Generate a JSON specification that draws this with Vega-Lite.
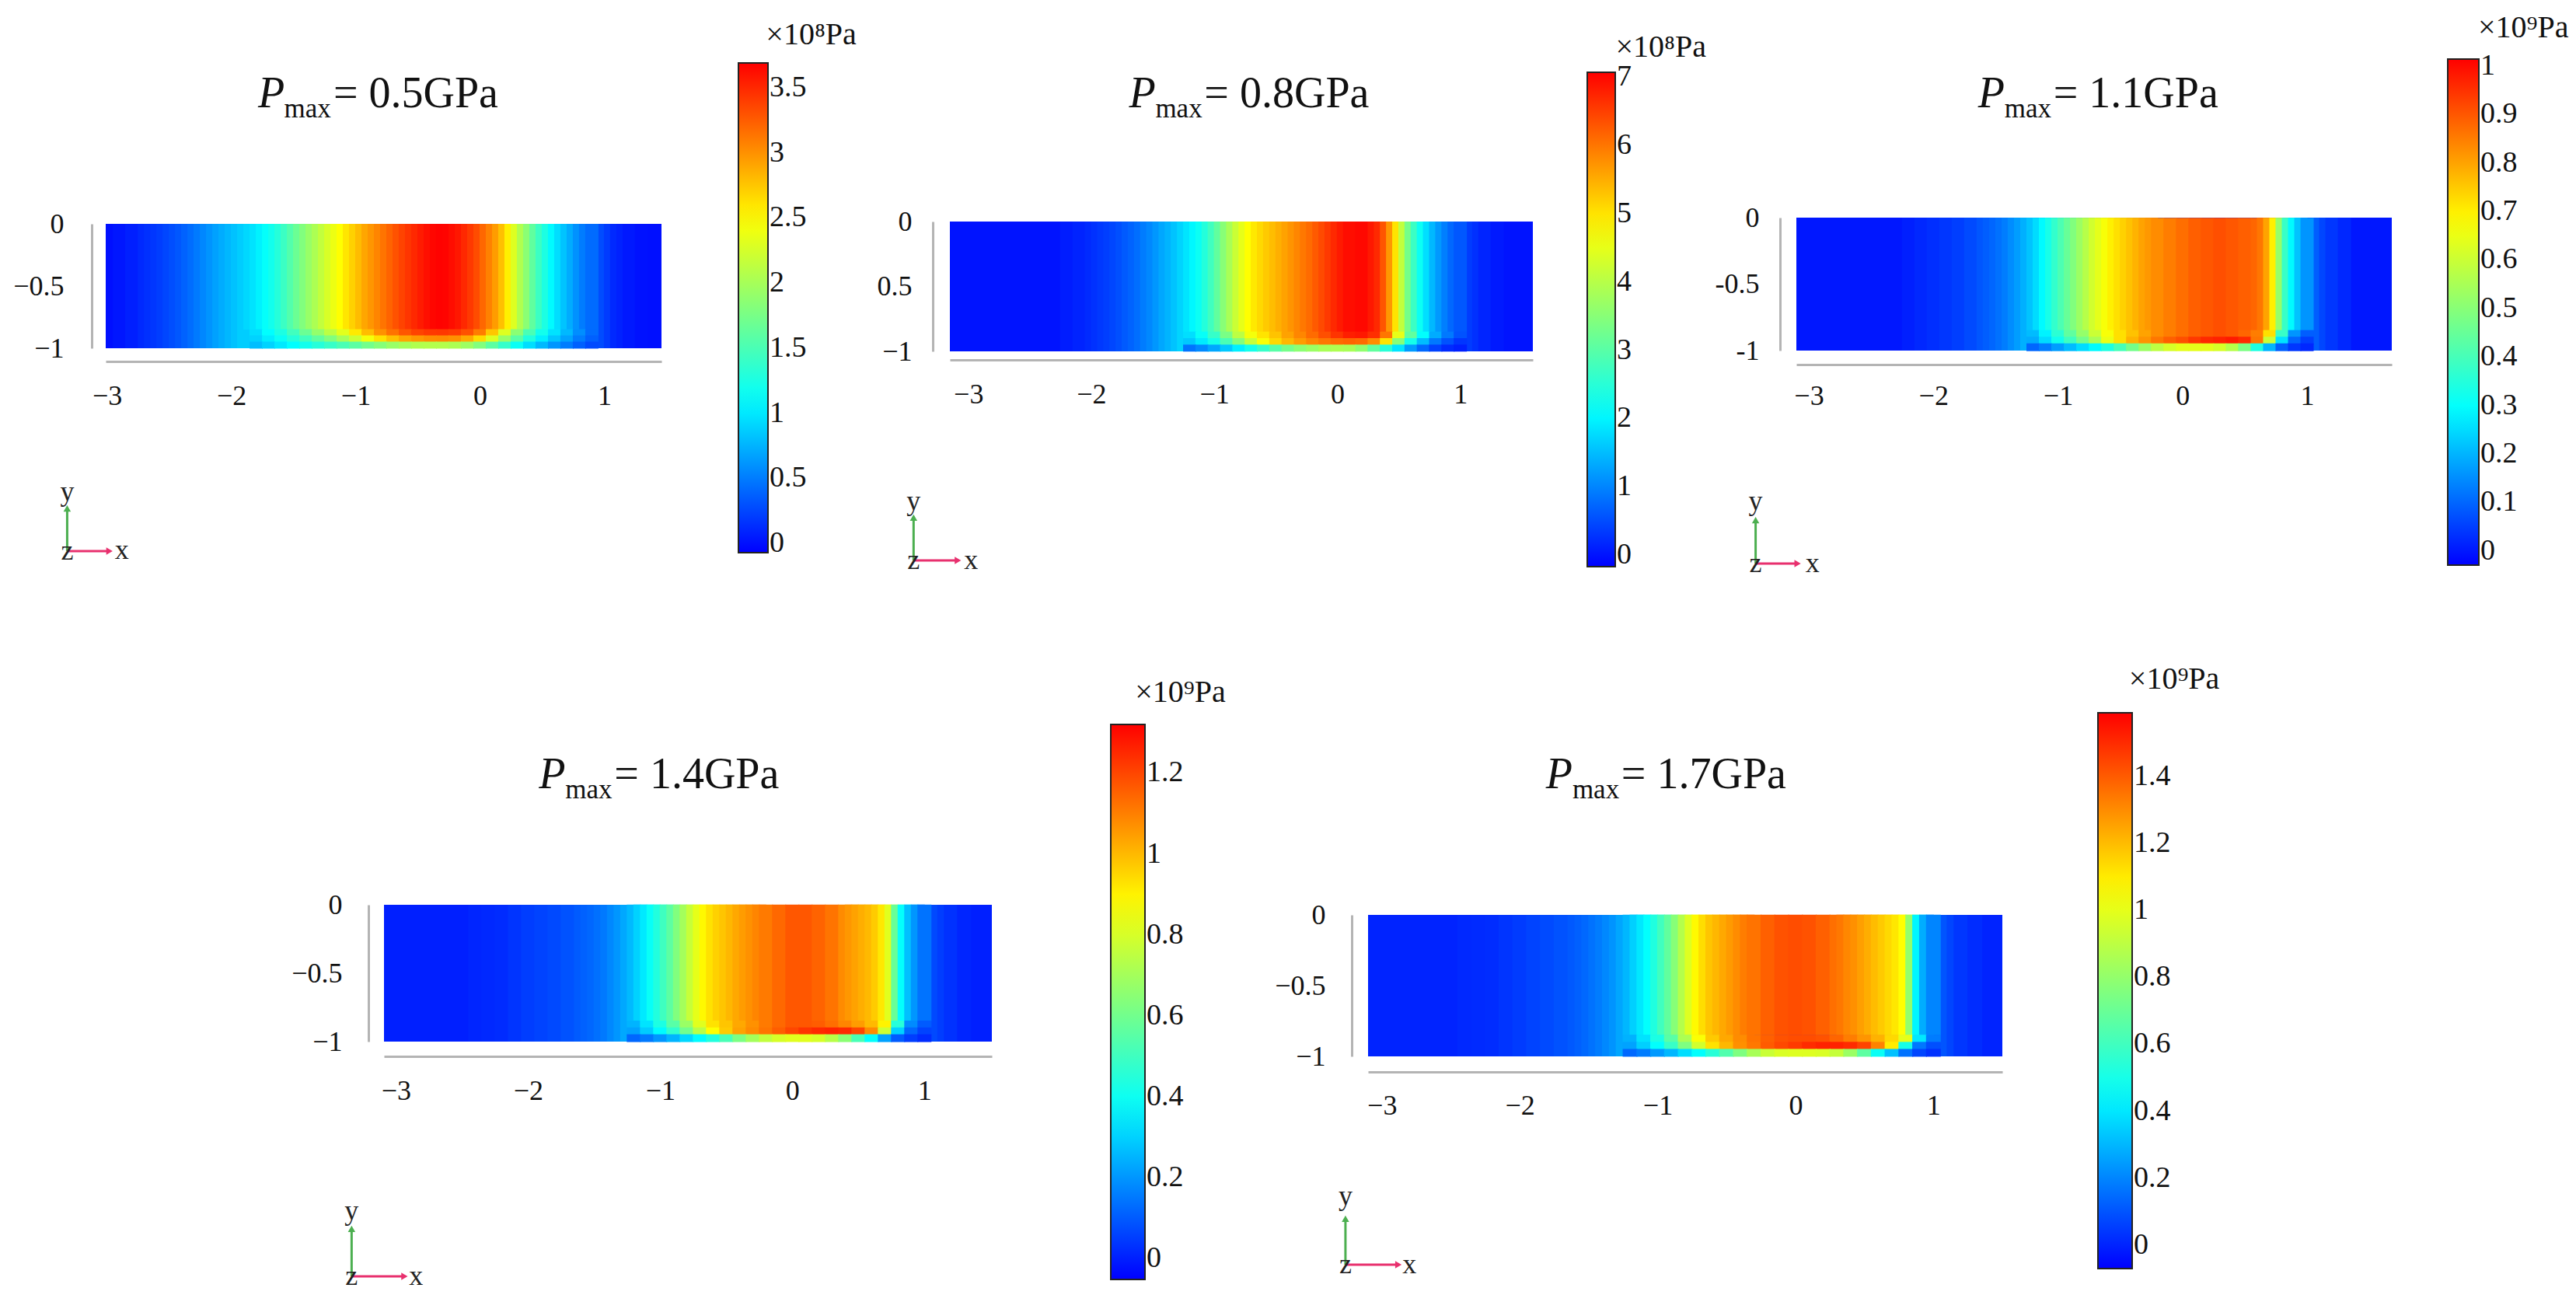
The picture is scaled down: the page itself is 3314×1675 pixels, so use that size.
{"$schema":"https://vega.github.io/schema/vega-lite/v6.json","width":3314,"height":1675,"padding":0,"autosize":{"type":"none"},"background":"white",
"config":{"view":{"stroke":null},
"axis":{"grid":false,"ticks":false,"title":null,"domainColor":"#b4b4b4","domainWidth":3,"labelFont":"Liberation Serif","labelFontSize":36,"labelColor":"#111","labelOverlap":false,"labelFlush":false,"labelBound":false,"format":"~g"},
"legend":{"orient":"none","title":null,"direction":"vertical","labelFont":"Liberation Serif","labelFontSize":38,"labelColor":"#111","labelOffset":16,"labelOverlap":false,"gradientStrokeColor":"#222","gradientStrokeWidth":2},
"style":{"sP":{"font":"Liberation Serif","fontSize":56,"fontStyle":"italic","align":"left","baseline":"alphabetic","color":"#111"},"sM":{"font":"Liberation Serif","fontSize":35,"align":"left","baseline":"alphabetic","color":"#111"},"sT":{"font":"Liberation Serif","fontSize":56,"align":"left","baseline":"alphabetic","color":"#111"},"sL":{"font":"Liberation Serif","fontSize":40,"align":"left","baseline":"alphabetic","color":"#111"},"sA":{"font":"Liberation Serif","fontSize":36,"align":"center","baseline":"middle","color":"#222"}}},
"resolve":{"scale":{"x":"independent","y":"independent","color":"independent"},"axis":{"x":"independent","y":"independent"}},
"layer":[
{"encoding":{"x":{"field":"x","type":"quantitative","scale":{"domain":[-3.01,1.46],"range":[136,851],"nice":false,"zero":false},"axis":{"orient":"bottom","offset":-1210,"labelPadding":27,"values":[-3,-2,-1,0,1]}},"y":{"field":"y","type":"quantitative","scale":{"domain":[-1,0],"range":[448,288],"nice":false,"zero":false},"axis":{"orient":"left","offset":-118,"labelPadding":36,"values":[0,-0.5,-1]}}},
"layer":[
{"encoding":{"color":{"field":"v","type":"quantitative","scale":{"domain":[-0.07,1.1,2.48,3.69],"range":["#0000ff","#00ffff","#ffff00","#ff0000"],"interpolate":"rgb"},"legend":{"format":"~g","legendX":950,"legendY":81,"gradientLength":630,"gradientThickness":38,"values":[0,0.5,1,1.5,2,2.5,3,3.5]}}},
"layer":[
{"mark":{"type":"rect"},"data":{"values":[{"x":-3.01,"x2":1.46,"y":0,"y2":-1,"v":0}]},"encoding":{"x2":{"field":"x2"},"y2":{"field":"y2"}}},
{"mark":{"type":"tick","orient":"vertical","thickness":17,"size":160,"opacity":1},"data":{"values":[{"x":-2.9,"y":-0.5,"v":0.03},{"x":-2.8,"y":-0.5,"v":0.07},{"x":-2.7,"y":-0.5,"v":0.12},{"x":-2.65,"y":-0.5,"v":0.15},{"x":-2.6,"y":-0.5,"v":0.18},{"x":-2.55,"y":-0.5,"v":0.21},{"x":-2.5,"y":-0.5,"v":0.25},{"x":-2.45,"y":-0.5,"v":0.29},{"x":-2.4,"y":-0.5,"v":0.33},{"x":-2.35,"y":-0.5,"v":0.38},{"x":-2.3,"y":-0.5,"v":0.43},{"x":-2.25,"y":-0.5,"v":0.49},{"x":-2.2,"y":-0.5,"v":0.55},{"x":-2.15,"y":-0.5,"v":0.61},{"x":-2.1,"y":-0.5,"v":0.67},{"x":-2.05,"y":-0.5,"v":0.72},{"x":-2,"y":-0.5,"v":0.77},{"x":-1.95,"y":-0.5,"v":0.82},{"x":-1.9,"y":-0.5,"v":0.87},{"x":1,"y":-0.5,"v":0.28},{"x":1.05,"y":-0.5,"v":0.2},{"x":1.1,"y":-0.5,"v":0.12},{"x":1.15,"y":-0.5,"v":0.08},{"x":1.2,"y":-0.5,"v":0.04},{"x":1.3,"y":-0.5,"v":0.01}]}},
{"mark":{"type":"tick","orient":"vertical","thickness":17,"size":136,"opacity":1},"data":{"values":[{"x":-1.85,"y":-0.425,"v":0.92},{"x":-1.8,"y":-0.425,"v":0.97},{"x":-1.75,"y":-0.425,"v":1.04},{"x":-1.7,"y":-0.425,"v":1.12},{"x":-1.65,"y":-0.425,"v":1.2},{"x":-1.6,"y":-0.425,"v":1.3},{"x":-1.55,"y":-0.425,"v":1.42},{"x":-1.5,"y":-0.425,"v":1.55},{"x":-1.45,"y":-0.425,"v":1.68},{"x":-1.4,"y":-0.425,"v":1.8},{"x":-1.35,"y":-0.425,"v":1.92},{"x":-1.3,"y":-0.425,"v":2.03},{"x":-1.25,"y":-0.425,"v":2.15},{"x":-1.2,"y":-0.425,"v":2.27},{"x":-1.15,"y":-0.425,"v":2.38},{"x":-1.1,"y":-0.425,"v":2.48},{"x":-1.05,"y":-0.425,"v":2.6},{"x":-1,"y":-0.425,"v":2.7},{"x":-0.95,"y":-0.425,"v":2.8},{"x":-0.9,"y":-0.425,"v":2.9},{"x":-0.85,"y":-0.425,"v":2.98},{"x":-0.8,"y":-0.425,"v":3.06},{"x":-0.75,"y":-0.425,"v":3.14},{"x":-0.7,"y":-0.425,"v":3.22},{"x":-0.65,"y":-0.425,"v":3.3},{"x":-0.6,"y":-0.425,"v":3.37},{"x":-0.55,"y":-0.425,"v":3.44},{"x":-0.5,"y":-0.425,"v":3.5},{"x":-0.45,"y":-0.425,"v":3.56},{"x":-0.4,"y":-0.425,"v":3.62},{"x":-0.35,"y":-0.425,"v":3.66},{"x":-0.3,"y":-0.425,"v":3.68},{"x":-0.25,"y":-0.425,"v":3.67},{"x":-0.2,"y":-0.425,"v":3.63},{"x":-0.15,"y":-0.425,"v":3.58},{"x":-0.1,"y":-0.425,"v":3.5},{"x":-0.05,"y":-0.425,"v":3.42},{"x":0,"y":-0.425,"v":3.33},{"x":0.05,"y":-0.425,"v":3.2},{"x":0.1,"y":-0.425,"v":3.08},{"x":0.15,"y":-0.425,"v":2.95},{"x":0.2,"y":-0.425,"v":2.78},{"x":0.25,"y":-0.425,"v":2.55},{"x":0.3,"y":-0.425,"v":2.3},{"x":0.35,"y":-0.425,"v":2.05},{"x":0.4,"y":-0.425,"v":1.85},{"x":0.45,"y":-0.425,"v":1.62},{"x":0.5,"y":-0.425,"v":1.42},{"x":0.55,"y":-0.425,"v":1.25},{"x":0.6,"y":-0.425,"v":1.08},{"x":0.65,"y":-0.425,"v":0.95},{"x":0.7,"y":-0.425,"v":0.83},{"x":0.75,"y":-0.425,"v":0.72},{"x":0.8,"y":-0.425,"v":0.6},{"x":0.85,"y":-0.425,"v":0.5},{"x":0.9,"y":-0.425,"v":0.42}]}},
{"mark":{"type":"tick","orient":"vertical","thickness":17,"size":9,"opacity":1},"data":{"values":[{"x":-1.8,"y":-0.875,"v":0.95},{"x":-1.7,"y":-0.875,"v":1.1},{"x":-1.6,"y":-0.875,"v":1.25},{"x":-1.5,"y":-0.875,"v":1.45},{"x":-1.4,"y":-0.875,"v":1.68},{"x":-1.3,"y":-0.875,"v":1.9},{"x":-1.2,"y":-0.875,"v":2.12},{"x":-1.1,"y":-0.875,"v":2.33},{"x":-1,"y":-0.875,"v":2.58},{"x":-0.9,"y":-0.875,"v":2.8},{"x":-0.8,"y":-0.875,"v":3},{"x":-0.7,"y":-0.875,"v":3.15},{"x":-0.6,"y":-0.875,"v":3.28},{"x":-0.5,"y":-0.875,"v":3.37},{"x":-0.4,"y":-0.875,"v":3.42},{"x":-0.3,"y":-0.875,"v":3.43},{"x":-0.2,"y":-0.875,"v":3.4},{"x":-0.1,"y":-0.875,"v":3.3},{"x":0,"y":-0.875,"v":3.1},{"x":0.1,"y":-0.875,"v":2.75},{"x":0.2,"y":-0.875,"v":2.3},{"x":0.3,"y":-0.875,"v":1.85},{"x":0.4,"y":-0.875,"v":1.5},{"x":0.5,"y":-0.875,"v":1.2},{"x":0.6,"y":-0.875,"v":0.97},{"x":0.7,"y":-0.875,"v":0.78},{"x":0.8,"y":-0.875,"v":0.58},{"x":0.9,"y":-0.875,"v":0.42},{"x":-1.8,"y":-0.925,"v":0.9},{"x":-1.7,"y":-0.925,"v":1.02},{"x":-1.6,"y":-0.925,"v":1.15},{"x":-1.5,"y":-0.925,"v":1.3},{"x":-1.4,"y":-0.925,"v":1.45},{"x":-1.3,"y":-0.925,"v":1.62},{"x":-1.2,"y":-0.925,"v":1.8},{"x":-1.1,"y":-0.925,"v":2},{"x":-1,"y":-0.925,"v":2.2},{"x":-0.9,"y":-0.925,"v":2.42},{"x":-0.8,"y":-0.925,"v":2.62},{"x":-0.7,"y":-0.925,"v":2.78},{"x":-0.6,"y":-0.925,"v":2.9},{"x":-0.5,"y":-0.925,"v":2.97},{"x":-0.4,"y":-0.925,"v":3.02},{"x":-0.3,"y":-0.925,"v":3.03},{"x":-0.2,"y":-0.925,"v":3},{"x":-0.1,"y":-0.925,"v":2.88},{"x":0,"y":-0.925,"v":2.65},{"x":0.1,"y":-0.925,"v":2.3},{"x":0.2,"y":-0.925,"v":1.92},{"x":0.3,"y":-0.925,"v":1.58},{"x":0.4,"y":-0.925,"v":1.28},{"x":0.5,"y":-0.925,"v":1.03},{"x":0.6,"y":-0.925,"v":0.84},{"x":0.7,"y":-0.925,"v":0.68},{"x":0.8,"y":-0.925,"v":0.5},{"x":0.9,"y":-0.925,"v":0.37},{"x":-1.8,"y":-0.975,"v":0.8},{"x":-1.7,"y":-0.975,"v":0.9},{"x":-1.6,"y":-0.975,"v":1},{"x":-1.5,"y":-0.975,"v":1.1},{"x":-1.4,"y":-0.975,"v":1.2},{"x":-1.3,"y":-0.975,"v":1.3},{"x":-1.2,"y":-0.975,"v":1.4},{"x":-1.1,"y":-0.975,"v":1.5},{"x":-1,"y":-0.975,"v":1.6},{"x":-0.9,"y":-0.975,"v":1.72},{"x":-0.8,"y":-0.975,"v":1.82},{"x":-0.7,"y":-0.975,"v":1.92},{"x":-0.6,"y":-0.975,"v":2},{"x":-0.5,"y":-0.975,"v":2.05},{"x":-0.4,"y":-0.975,"v":2.07},{"x":-0.3,"y":-0.975,"v":2.07},{"x":-0.2,"y":-0.975,"v":2.03},{"x":-0.1,"y":-0.975,"v":1.95},{"x":0,"y":-0.975,"v":1.8},{"x":0.1,"y":-0.975,"v":1.6},{"x":0.2,"y":-0.975,"v":1.38},{"x":0.3,"y":-0.975,"v":1.15},{"x":0.4,"y":-0.975,"v":0.95},{"x":0.5,"y":-0.975,"v":0.78},{"x":0.6,"y":-0.975,"v":0.62},{"x":0.7,"y":-0.975,"v":0.5},{"x":0.8,"y":-0.975,"v":0.37},{"x":0.9,"y":-0.975,"v":0.27}]}}
]},
{"mark":{"type":"tick","orient":"horizontal","size":6,"thickness":2,"color":"#111","opacity":1},"data":{"values":[{"x":2.096,"y":-2.571},{"x":2.096,"y":-2.047},{"x":2.096,"y":-1.524},{"x":2.096,"y":-1},{"x":2.096,"y":-0.476},{"x":2.096,"y":0.047},{"x":2.096,"y":0.571},{"x":2.096,"y":1.095},{"x":2.296,"y":-2.571},{"x":2.296,"y":-2.047},{"x":2.296,"y":-1.524},{"x":2.296,"y":-1},{"x":2.296,"y":-0.476},{"x":2.296,"y":0.047},{"x":2.296,"y":0.571},{"x":2.296,"y":1.095}]}},
{"mark":{"type":"text","style":"sP"},"data":{"values":[{"t":"P","x":-1.785,"y":0.9375}]},"encoding":{"text":{"field":"t"}}},
{"mark":{"type":"text","style":"sM"},"data":{"values":[{"t":"max","x":-1.575,"y":0.856}]},"encoding":{"text":{"field":"t"}}},
{"mark":{"type":"text","style":"sT"},"data":{"values":[{"t":"= 0.5GPa","x":-1.179,"y":0.9375}]},"encoding":{"text":{"field":"t"}}},
{"mark":{"type":"text","style":"sL"},"data":{"values":[{"t":"×10⁸Pa","x":2.3,"y":1.444}]},"encoding":{"text":{"field":"t"}}},
{"mark":{"type":"rule","color":"#4caf50","strokeWidth":3},"data":{"values":[{"x":-3.32,"x2":-3.32,"y":-2.631,"y2":-2.288}]},"encoding":{"x2":{"field":"x2"},"y2":{"field":"y2"}}},
{"mark":{"type":"rule","color":"#e8306e","strokeWidth":3},"data":{"values":[{"x":-3.32,"x2":-2.98,"y":-2.631,"y2":-2.631}]},"encoding":{"x2":{"field":"x2"},"y2":{"field":"y2"}}},
{"mark":{"type":"point","shape":"triangle-up","filled":true,"size":90,"color":"#4caf50","opacity":1},"data":{"values":[{"x":-3.32,"y":-2.288}]}},
{"mark":{"type":"point","shape":"triangle-right","filled":true,"size":90,"color":"#e8306e","opacity":1},"data":{"values":[{"x":-2.98,"y":-2.631}]}},
{"mark":{"type":"text","style":"sA"},"data":{"values":[{"t":"y","x":-3.32,"y":-2.156},{"t":"x","x":-2.88,"y":-2.625},{"t":"z","x":-3.32,"y":-2.631}]},"encoding":{"text":{"field":"t"}}}
]},
{"encoding":{"x":{"field":"x","type":"quantitative","scale":{"domain":[-3.15,1.59],"range":[1222,1972],"nice":false,"zero":false},"axis":{"orient":"bottom","offset":-1212,"labelPadding":27,"values":[-3,-2,-1,0,1]}},"y":{"field":"y","type":"quantitative","scale":{"domain":[-1,0],"range":[452,285],"nice":false,"zero":false},"axis":{"orient":"left","offset":-1200,"labelPadding":27,"values":[0,-0.5,-1],"labelExpr":"datum.value==-0.5?'0.5':datum.label"}}},
"layer":[
{"encoding":{"color":{"field":"v","type":"quantitative","scale":{"domain":[-0.17,2.08,4.75,7.07],"range":["#0000ff","#00ffff","#ffff00","#ff0000"],"interpolate":"rgb"},"legend":{"format":"~g","legendX":2042,"legendY":93,"gradientLength":636,"gradientThickness":36,"values":[0,1,2,3,4,5,6,7]}}},
"layer":[
{"mark":{"type":"rect"},"data":{"values":[{"x":-3.15,"x2":1.59,"y":0,"y2":-1,"v":0}]},"encoding":{"x2":{"field":"x2"},"y2":{"field":"y2"}}},
{"mark":{"type":"tick","orient":"vertical","thickness":17,"size":167,"opacity":1},"data":{"values":[{"x":-2.2,"y":-0.5,"v":0.08},{"x":-2.1,"y":-0.5,"v":0.14},{"x":-2,"y":-0.5,"v":0.2},{"x":-1.95,"y":-0.5,"v":0.26},{"x":-1.9,"y":-0.5,"v":0.32},{"x":-1.85,"y":-0.5,"v":0.38},{"x":-1.8,"y":-0.5,"v":0.45},{"x":-1.75,"y":-0.5,"v":0.53},{"x":-1.7,"y":-0.5,"v":0.62},{"x":-1.65,"y":-0.5,"v":0.7},{"x":-1.6,"y":-0.5,"v":0.8},{"x":-1.55,"y":-0.5,"v":0.92},{"x":-1.5,"y":-0.5,"v":1.03},{"x":-1.45,"y":-0.5,"v":1.16},{"x":-1.4,"y":-0.5,"v":1.3},{"x":-1.35,"y":-0.5,"v":1.42},{"x":-1.3,"y":-0.5,"v":1.55},{"x":-1.25,"y":-0.5,"v":1.7},{"x":1.1,"y":-0.5,"v":0.35},{"x":1.15,"y":-0.5,"v":0.25},{"x":1.2,"y":-0.5,"v":0.15},{"x":1.3,"y":-0.5,"v":0.05}]}},
{"mark":{"type":"tick","orient":"vertical","thickness":17,"size":142,"opacity":1},"data":{"values":[{"x":-1.2,"y":-0.425,"v":1.85},{"x":-1.15,"y":-0.425,"v":2.02},{"x":-1.1,"y":-0.425,"v":2.2},{"x":-1.05,"y":-0.425,"v":2.45},{"x":-1,"y":-0.425,"v":2.75},{"x":-0.95,"y":-0.425,"v":3.1},{"x":-0.9,"y":-0.425,"v":3.5},{"x":-0.85,"y":-0.425,"v":3.85},{"x":-0.8,"y":-0.425,"v":4.2},{"x":-0.75,"y":-0.425,"v":4.5},{"x":-0.7,"y":-0.425,"v":4.75},{"x":-0.65,"y":-0.425,"v":4.95},{"x":-0.6,"y":-0.425,"v":5.1},{"x":-0.55,"y":-0.425,"v":5.23},{"x":-0.5,"y":-0.425,"v":5.35},{"x":-0.45,"y":-0.425,"v":5.48},{"x":-0.4,"y":-0.425,"v":5.6},{"x":-0.35,"y":-0.425,"v":5.72},{"x":-0.3,"y":-0.425,"v":5.85},{"x":-0.25,"y":-0.425,"v":5.98},{"x":-0.2,"y":-0.425,"v":6.1},{"x":-0.15,"y":-0.425,"v":6.25},{"x":-0.1,"y":-0.425,"v":6.4},{"x":-0.05,"y":-0.425,"v":6.55},{"x":0,"y":-0.425,"v":6.7},{"x":0.05,"y":-0.425,"v":6.83},{"x":0.1,"y":-0.425,"v":6.95},{"x":0.2,"y":-0.425,"v":7},{"x":0.3,"y":-0.425,"v":6.85},{"x":0.35,"y":-0.425,"v":6.7},{"x":0.4,"y":-0.425,"v":6.3},{"x":0.45,"y":-0.425,"v":5.7},{"x":0.5,"y":-0.425,"v":5},{"x":0.55,"y":-0.425,"v":4.1},{"x":0.6,"y":-0.425,"v":3.3},{"x":0.65,"y":-0.425,"v":2.7},{"x":0.7,"y":-0.425,"v":2.2},{"x":0.75,"y":-0.425,"v":1.8},{"x":0.8,"y":-0.425,"v":1.45},{"x":0.85,"y":-0.425,"v":1.18},{"x":0.9,"y":-0.425,"v":0.95},{"x":0.95,"y":-0.425,"v":0.75},{"x":1,"y":-0.425,"v":0.6}]}},
{"mark":{"type":"tick","orient":"vertical","thickness":17,"size":9,"opacity":1},"data":{"values":[{"x":-1.2,"y":-0.875,"v":1.8},{"x":-1.1,"y":-0.875,"v":2.15},{"x":-1,"y":-0.875,"v":2.65},{"x":-0.9,"y":-0.875,"v":3.35},{"x":-0.8,"y":-0.875,"v":4.05},{"x":-0.7,"y":-0.875,"v":4.65},{"x":-0.6,"y":-0.875,"v":5},{"x":-0.5,"y":-0.875,"v":5.3},{"x":-0.4,"y":-0.875,"v":5.6},{"x":-0.3,"y":-0.875,"v":5.85},{"x":-0.2,"y":-0.875,"v":6.1},{"x":-0.1,"y":-0.875,"v":6.35},{"x":0,"y":-0.875,"v":6.6},{"x":0.1,"y":-0.875,"v":6.8},{"x":0.2,"y":-0.875,"v":6.85},{"x":0.3,"y":-0.875,"v":6.65},{"x":0.4,"y":-0.875,"v":6},{"x":0.5,"y":-0.875,"v":4.5},{"x":0.6,"y":-0.875,"v":3.1},{"x":0.7,"y":-0.875,"v":2.1},{"x":0.8,"y":-0.875,"v":1.35},{"x":0.9,"y":-0.875,"v":0.9},{"x":1,"y":-0.875,"v":0.55},{"x":-1.2,"y":-0.925,"v":1.6},{"x":-1.1,"y":-0.925,"v":1.9},{"x":-1,"y":-0.925,"v":2.3},{"x":-0.9,"y":-0.925,"v":2.85},{"x":-0.8,"y":-0.925,"v":3.45},{"x":-0.7,"y":-0.925,"v":4.15},{"x":-0.6,"y":-0.925,"v":4.7},{"x":-0.5,"y":-0.925,"v":5.1},{"x":-0.4,"y":-0.925,"v":5.4},{"x":-0.3,"y":-0.925,"v":5.65},{"x":-0.2,"y":-0.925,"v":5.85},{"x":-0.1,"y":-0.925,"v":6},{"x":0,"y":-0.925,"v":6.1},{"x":0.1,"y":-0.925,"v":6.15},{"x":0.2,"y":-0.925,"v":6.1},{"x":0.3,"y":-0.925,"v":5.8},{"x":0.4,"y":-0.925,"v":5},{"x":0.5,"y":-0.925,"v":3.5},{"x":0.6,"y":-0.925,"v":2.3},{"x":0.7,"y":-0.925,"v":1.5},{"x":0.8,"y":-0.925,"v":0.9},{"x":0.9,"y":-0.925,"v":0.55},{"x":1,"y":-0.925,"v":0.3},{"x":-1.2,"y":-0.975,"v":0.85},{"x":-1.1,"y":-0.975,"v":1.05},{"x":-1,"y":-0.975,"v":1.3},{"x":-0.9,"y":-0.975,"v":1.6},{"x":-0.8,"y":-0.975,"v":1.95},{"x":-0.7,"y":-0.975,"v":2.3},{"x":-0.6,"y":-0.975,"v":2.65},{"x":-0.5,"y":-0.975,"v":3},{"x":-0.4,"y":-0.975,"v":3.3},{"x":-0.3,"y":-0.975,"v":3.55},{"x":-0.2,"y":-0.975,"v":3.7},{"x":-0.1,"y":-0.975,"v":3.85},{"x":0,"y":-0.975,"v":3.9},{"x":0.1,"y":-0.975,"v":3.85},{"x":0.2,"y":-0.975,"v":3.6},{"x":0.3,"y":-0.975,"v":3.1},{"x":0.4,"y":-0.975,"v":2.5},{"x":0.5,"y":-0.975,"v":1.85},{"x":0.6,"y":-0.975,"v":1.2},{"x":0.7,"y":-0.975,"v":0.75},{"x":0.8,"y":-0.975,"v":0.4},{"x":0.9,"y":-0.975,"v":0.2},{"x":1,"y":-0.975,"v":0.1}]}}
]},
{"mark":{"type":"tick","orient":"horizontal","size":6,"thickness":2,"color":"#111","opacity":1},"data":{"values":[{"x":2.052,"y":-2.57},{"x":2.052,"y":-2.044},{"x":2.052,"y":-1.518},{"x":2.052,"y":-0.992},{"x":2.052,"y":-0.466},{"x":2.052,"y":0.06},{"x":2.052,"y":0.586},{"x":2.052,"y":1.112},{"x":2.242,"y":-2.57},{"x":2.242,"y":-2.044},{"x":2.242,"y":-1.518},{"x":2.242,"y":-0.992},{"x":2.242,"y":-0.466},{"x":2.242,"y":0.06},{"x":2.242,"y":0.586},{"x":2.242,"y":1.112}]}},
{"mark":{"type":"text","style":"sP"},"data":{"values":[{"t":"P","x":-1.694,"y":0.88}]},"encoding":{"text":{"field":"t"}}},
{"mark":{"type":"text","style":"sM"},"data":{"values":[{"t":"max","x":-1.479,"y":0.802}]},"encoding":{"text":{"field":"t"}}},
{"mark":{"type":"text","style":"sT"},"data":{"values":[{"t":"= 0.8GPa","x":-1.081,"y":0.88}]},"encoding":{"text":{"field":"t"}}},
{"mark":{"type":"text","style":"sL"},"data":{"values":[{"t":"×10⁸Pa","x":2.263,"y":1.27}]},"encoding":{"text":{"field":"t"}}},
{"mark":{"type":"rule","color":"#4caf50","strokeWidth":3},"data":{"values":[{"x":-3.445,"x2":-3.445,"y":-2.611,"y2":-2.281}]},"encoding":{"x2":{"field":"x2"},"y2":{"field":"y2"}}},
{"mark":{"type":"rule","color":"#e8306e","strokeWidth":3},"data":{"values":[{"x":-3.445,"x2":-3.085,"y":-2.611,"y2":-2.611}]},"encoding":{"x2":{"field":"x2"},"y2":{"field":"y2"}}},
{"mark":{"type":"point","shape":"triangle-up","filled":true,"size":90,"color":"#4caf50","opacity":1},"data":{"values":[{"x":-3.445,"y":-2.281}]}},
{"mark":{"type":"point","shape":"triangle-right","filled":true,"size":90,"color":"#e8306e","opacity":1},"data":{"values":[{"x":-3.085,"y":-2.611}]}},
{"mark":{"type":"text","style":"sA"},"data":{"values":[{"t":"y","x":-3.445,"y":-2.156},{"t":"x","x":-2.977,"y":-2.611},{"t":"z","x":-3.445,"y":-2.611}]},"encoding":{"text":{"field":"t"}}}
]},
{"encoding":{"x":{"field":"x","type":"quantitative","scale":{"domain":[-3.1,1.68],"range":[2311,3077],"nice":false,"zero":false},"axis":{"orient":"bottom","offset":-1206,"labelPadding":23,"values":[-3,-2,-1,0,1]}},"y":{"field":"y","type":"quantitative","scale":{"domain":[-1,0],"range":[451,280],"nice":false,"zero":false},"axis":{"orient":"left","offset":-2290,"labelPadding":27,"values":[0,-0.5,-1],"labelExpr":"replace(datum.label,'−','-')"}}},
"layer":[
{"encoding":{"color":{"field":"v","type":"quantitative","scale":{"domain":[-0.029,0.295,0.68,1.014],"range":["#0000ff","#00ffff","#ffff00","#ff0000"],"interpolate":"rgb"},"legend":{"format":"~g","legendX":3149,"legendY":76,"gradientLength":651,"gradientThickness":40,"values":[0,0.1,0.2,0.3,0.4,0.5,0.6,0.7,0.8,0.9,1]}}},
"layer":[
{"mark":{"type":"rect"},"data":{"values":[{"x":-3.1,"x2":1.68,"y":0,"y2":-1,"v":0}]},"encoding":{"x2":{"field":"x2"},"y2":{"field":"y2"}}},
{"mark":{"type":"tick","orient":"vertical","thickness":17,"size":171,"opacity":1},"data":{"values":[{"x":-2.2,"y":-0.5,"v":0.01},{"x":-2.1,"y":-0.5,"v":0.02},{"x":-2,"y":-0.5,"v":0.03},{"x":-1.9,"y":-0.5,"v":0.04},{"x":-1.8,"y":-0.5,"v":0.05},{"x":-1.7,"y":-0.5,"v":0.065},{"x":-1.6,"y":-0.5,"v":0.08},{"x":-1.55,"y":-0.5,"v":0.09},{"x":-1.5,"y":-0.5,"v":0.1},{"x":-1.45,"y":-0.5,"v":0.115},{"x":-1.4,"y":-0.5,"v":0.13},{"x":-1.35,"y":-0.5,"v":0.15},{"x":-1.3,"y":-0.5,"v":0.17},{"x":-1.25,"y":-0.5,"v":0.195},{"x":1.1,"y":-0.5,"v":0.09},{"x":1.15,"y":-0.5,"v":0.06},{"x":1.2,"y":-0.5,"v":0.04},{"x":1.3,"y":-0.5,"v":0.02}]}},
{"mark":{"type":"tick","orient":"vertical","thickness":17,"size":145,"opacity":1},"data":{"values":[{"x":-1.2,"y":-0.425,"v":0.22},{"x":-1.15,"y":-0.425,"v":0.25},{"x":-1.1,"y":-0.425,"v":0.29},{"x":-1.05,"y":-0.425,"v":0.33},{"x":-1,"y":-0.425,"v":0.37},{"x":-0.95,"y":-0.425,"v":0.41},{"x":-0.9,"y":-0.425,"v":0.45},{"x":-0.85,"y":-0.425,"v":0.49},{"x":-0.8,"y":-0.425,"v":0.53},{"x":-0.75,"y":-0.425,"v":0.57},{"x":-0.7,"y":-0.425,"v":0.61},{"x":-0.65,"y":-0.425,"v":0.64},{"x":-0.6,"y":-0.425,"v":0.67},{"x":-0.55,"y":-0.425,"v":0.7},{"x":-0.5,"y":-0.425,"v":0.72},{"x":-0.45,"y":-0.425,"v":0.74},{"x":-0.4,"y":-0.425,"v":0.76},{"x":-0.35,"y":-0.425,"v":0.78},{"x":-0.3,"y":-0.425,"v":0.8},{"x":-0.25,"y":-0.425,"v":0.815},{"x":-0.2,"y":-0.425,"v":0.83},{"x":-0.1,"y":-0.425,"v":0.85},{"x":0,"y":-0.425,"v":0.87},{"x":0.1,"y":-0.425,"v":0.89},{"x":0.2,"y":-0.425,"v":0.9},{"x":0.3,"y":-0.425,"v":0.91},{"x":0.4,"y":-0.425,"v":0.9},{"x":0.5,"y":-0.425,"v":0.89},{"x":0.6,"y":-0.425,"v":0.88},{"x":0.65,"y":-0.425,"v":0.86},{"x":0.7,"y":-0.425,"v":0.8},{"x":0.75,"y":-0.425,"v":0.7},{"x":0.8,"y":-0.425,"v":0.52},{"x":0.85,"y":-0.425,"v":0.38},{"x":0.9,"y":-0.425,"v":0.29},{"x":0.95,"y":-0.425,"v":0.22},{"x":1,"y":-0.425,"v":0.16}]}},
{"mark":{"type":"tick","orient":"vertical","thickness":17,"size":10,"opacity":1},"data":{"values":[{"x":-1.2,"y":-0.875,"v":0.21},{"x":-1.1,"y":-0.875,"v":0.28},{"x":-1,"y":-0.875,"v":0.36},{"x":-0.9,"y":-0.875,"v":0.44},{"x":-0.8,"y":-0.875,"v":0.52},{"x":-0.7,"y":-0.875,"v":0.6},{"x":-0.6,"y":-0.875,"v":0.67},{"x":-0.5,"y":-0.875,"v":0.72},{"x":-0.4,"y":-0.875,"v":0.76},{"x":-0.3,"y":-0.875,"v":0.8},{"x":-0.2,"y":-0.875,"v":0.83},{"x":-0.1,"y":-0.875,"v":0.85},{"x":0,"y":-0.875,"v":0.87},{"x":0.1,"y":-0.875,"v":0.89},{"x":0.2,"y":-0.875,"v":0.9},{"x":0.3,"y":-0.875,"v":0.91},{"x":0.4,"y":-0.875,"v":0.9},{"x":0.5,"y":-0.875,"v":0.88},{"x":0.6,"y":-0.875,"v":0.85},{"x":0.7,"y":-0.875,"v":0.72},{"x":0.8,"y":-0.875,"v":0.38},{"x":0.9,"y":-0.875,"v":0.16},{"x":1,"y":-0.875,"v":0.09},{"x":-1.2,"y":-0.925,"v":0.19},{"x":-1.1,"y":-0.925,"v":0.25},{"x":-1,"y":-0.925,"v":0.32},{"x":-0.9,"y":-0.925,"v":0.39},{"x":-0.8,"y":-0.925,"v":0.47},{"x":-0.7,"y":-0.925,"v":0.55},{"x":-0.6,"y":-0.925,"v":0.65},{"x":-0.5,"y":-0.925,"v":0.72},{"x":-0.4,"y":-0.925,"v":0.78},{"x":-0.3,"y":-0.925,"v":0.82},{"x":-0.2,"y":-0.925,"v":0.86},{"x":-0.1,"y":-0.925,"v":0.89},{"x":0,"y":-0.925,"v":0.91},{"x":0.1,"y":-0.925,"v":0.94},{"x":0.2,"y":-0.925,"v":0.96},{"x":0.3,"y":-0.925,"v":0.97},{"x":0.4,"y":-0.925,"v":0.98},{"x":0.5,"y":-0.925,"v":0.96},{"x":0.6,"y":-0.925,"v":0.86},{"x":0.7,"y":-0.925,"v":0.6},{"x":0.8,"y":-0.925,"v":0.26},{"x":0.9,"y":-0.925,"v":0.1},{"x":1,"y":-0.925,"v":0.05},{"x":-1.2,"y":-0.975,"v":0.1},{"x":-1.1,"y":-0.975,"v":0.13},{"x":-1,"y":-0.975,"v":0.17},{"x":-0.9,"y":-0.975,"v":0.21},{"x":-0.8,"y":-0.975,"v":0.25},{"x":-0.7,"y":-0.975,"v":0.29},{"x":-0.6,"y":-0.975,"v":0.34},{"x":-0.5,"y":-0.975,"v":0.4},{"x":-0.4,"y":-0.975,"v":0.47},{"x":-0.3,"y":-0.975,"v":0.53},{"x":-0.2,"y":-0.975,"v":0.58},{"x":-0.1,"y":-0.975,"v":0.62},{"x":0,"y":-0.975,"v":0.64},{"x":0.1,"y":-0.975,"v":0.64},{"x":0.2,"y":-0.975,"v":0.64},{"x":0.3,"y":-0.975,"v":0.62},{"x":0.4,"y":-0.975,"v":0.57},{"x":0.5,"y":-0.975,"v":0.48},{"x":0.6,"y":-0.975,"v":0.34},{"x":0.7,"y":-0.975,"v":0.2},{"x":0.8,"y":-0.975,"v":0.09},{"x":0.9,"y":-0.975,"v":0.04},{"x":1,"y":-0.975,"v":0.02}]}}
]},
{"mark":{"type":"tick","orient":"horizontal","size":6,"thickness":2,"color":"#111","opacity":1},"data":{"values":[{"x":2.148,"y":-2.509},{"x":2.148,"y":-2.144},{"x":2.148,"y":-1.779},{"x":2.148,"y":-1.414},{"x":2.148,"y":-1.049},{"x":2.148,"y":-0.684},{"x":2.148,"y":-0.319},{"x":2.148,"y":0.046},{"x":2.148,"y":0.411},{"x":2.148,"y":0.776},{"x":2.36,"y":-2.509},{"x":2.36,"y":-2.144},{"x":2.36,"y":-1.779},{"x":2.36,"y":-1.414},{"x":2.36,"y":-1.049},{"x":2.36,"y":-0.684},{"x":2.36,"y":-0.319},{"x":2.36,"y":0.046},{"x":2.36,"y":0.411},{"x":2.36,"y":0.776}]}},
{"mark":{"type":"text","style":"sP"},"data":{"values":[{"t":"P","x":-1.642,"y":0.83}]},"encoding":{"text":{"field":"t"}}},
{"mark":{"type":"text","style":"sM"},"data":{"values":[{"t":"max","x":-1.429,"y":0.754}]},"encoding":{"text":{"field":"t"}}},
{"mark":{"type":"text","style":"sT"},"data":{"values":[{"t":"= 1.1GPa","x":-1.036,"y":0.83}]},"encoding":{"text":{"field":"t"}}},
{"mark":{"type":"text","style":"sL"},"data":{"values":[{"t":"×10⁹Pa","x":2.372,"y":1.357}]},"encoding":{"text":{"field":"t"}}},
{"mark":{"type":"rule","color":"#4caf50","strokeWidth":3},"data":{"values":[{"x":-3.427,"x2":-3.427,"y":-2.602,"y2":-2.275}]},"encoding":{"x2":{"field":"x2"},"y2":{"field":"y2"}}},
{"mark":{"type":"rule","color":"#e8306e","strokeWidth":3},"data":{"values":[{"x":-3.427,"x2":-3.09,"y":-2.602,"y2":-2.602}]},"encoding":{"x2":{"field":"x2"},"y2":{"field":"y2"}}},
{"mark":{"type":"point","shape":"triangle-up","filled":true,"size":90,"color":"#4caf50","opacity":1},"data":{"values":[{"x":-3.427,"y":-2.275}]}},
{"mark":{"type":"point","shape":"triangle-right","filled":true,"size":90,"color":"#e8306e","opacity":1},"data":{"values":[{"x":-3.09,"y":-2.602}]}},
{"mark":{"type":"text","style":"sA"},"data":{"values":[{"t":"y","x":-3.427,"y":-2.135},{"t":"x","x":-2.97,"y":-2.602},{"t":"z","x":-3.427,"y":-2.602}]},"encoding":{"text":{"field":"t"}}}
]},
{"encoding":{"x":{"field":"x","type":"quantitative","scale":{"domain":[-3.09,1.51],"range":[494,1276],"nice":false,"zero":false},"axis":{"orient":"bottom","offset":-316,"labelPadding":27,"values":[-3,-2,-1,0,1]}},"y":{"field":"y","type":"quantitative","scale":{"domain":[-1,0],"range":[1340,1164],"nice":false,"zero":false},"axis":{"orient":"left","offset":-474,"labelPadding":34,"values":[0,-0.5,-1]}}},
"layer":[
{"encoding":{"color":{"field":"v","type":"quantitative","scale":{"domain":[-0.052,0.375,0.88,1.32],"range":["#0000ff","#00ffff","#ffff00","#ff0000"],"interpolate":"rgb"},"legend":{"format":"~g","legendX":1429,"legendY":932,"gradientLength":714,"gradientThickness":44,"values":[0,0.2,0.4,0.6,0.8,1,1.2]}}},
"layer":[
{"mark":{"type":"rect"},"data":{"values":[{"x":-3.09,"x2":1.51,"y":0,"y2":-1,"v":0}]},"encoding":{"x2":{"field":"x2"},"y2":{"field":"y2"}}},
{"mark":{"type":"tick","orient":"vertical","thickness":18,"size":176,"opacity":1},"data":{"values":[{"x":-2.4,"y":-0.5,"v":0.01},{"x":-2.3,"y":-0.5,"v":0.015},{"x":-2.2,"y":-0.5,"v":0.02},{"x":-2.1,"y":-0.5,"v":0.035},{"x":-2,"y":-0.5,"v":0.05},{"x":-1.9,"y":-0.5,"v":0.06},{"x":-1.8,"y":-0.5,"v":0.07},{"x":-1.7,"y":-0.5,"v":0.085},{"x":-1.6,"y":-0.5,"v":0.1},{"x":-1.55,"y":-0.5,"v":0.11},{"x":-1.5,"y":-0.5,"v":0.12},{"x":-1.45,"y":-0.5,"v":0.135},{"x":-1.4,"y":-0.5,"v":0.15},{"x":-1.35,"y":-0.5,"v":0.175},{"x":-1.3,"y":-0.5,"v":0.2},{"x":-1.25,"y":-0.5,"v":0.23},{"x":1.1,"y":-0.5,"v":0.07},{"x":1.15,"y":-0.5,"v":0.05},{"x":1.2,"y":-0.5,"v":0.03},{"x":1.3,"y":-0.5,"v":0.01}]}},
{"mark":{"type":"tick","orient":"vertical","thickness":18,"size":150,"opacity":1},"data":{"values":[{"x":-1.2,"y":-0.425,"v":0.26},{"x":-1.15,"y":-0.425,"v":0.3},{"x":-1.1,"y":-0.425,"v":0.34},{"x":-1.05,"y":-0.425,"v":0.39},{"x":-1,"y":-0.425,"v":0.44},{"x":-0.95,"y":-0.425,"v":0.5},{"x":-0.9,"y":-0.425,"v":0.56},{"x":-0.85,"y":-0.425,"v":0.63},{"x":-0.8,"y":-0.425,"v":0.7},{"x":-0.75,"y":-0.425,"v":0.77},{"x":-0.7,"y":-0.425,"v":0.83},{"x":-0.65,"y":-0.425,"v":0.89},{"x":-0.6,"y":-0.425,"v":0.93},{"x":-0.55,"y":-0.425,"v":0.96},{"x":-0.5,"y":-0.425,"v":0.98},{"x":-0.45,"y":-0.425,"v":1.005},{"x":-0.4,"y":-0.425,"v":1.03},{"x":-0.35,"y":-0.425,"v":1.05},{"x":-0.3,"y":-0.425,"v":1.07},{"x":-0.25,"y":-0.425,"v":1.09},{"x":-0.2,"y":-0.425,"v":1.11},{"x":-0.1,"y":-0.425,"v":1.14},{"x":0,"y":-0.425,"v":1.17},{"x":0.1,"y":-0.425,"v":1.17},{"x":0.2,"y":-0.425,"v":1.15},{"x":0.3,"y":-0.425,"v":1.12},{"x":0.4,"y":-0.425,"v":1.08},{"x":0.45,"y":-0.425,"v":1.06},{"x":0.5,"y":-0.425,"v":1.04},{"x":0.55,"y":-0.425,"v":1.02},{"x":0.6,"y":-0.425,"v":1},{"x":0.65,"y":-0.425,"v":0.97},{"x":0.7,"y":-0.425,"v":0.92},{"x":0.75,"y":-0.425,"v":0.82},{"x":0.8,"y":-0.425,"v":0.58},{"x":0.85,"y":-0.425,"v":0.38},{"x":0.9,"y":-0.425,"v":0.27},{"x":0.95,"y":-0.425,"v":0.2},{"x":1,"y":-0.425,"v":0.14}]}},
{"mark":{"type":"tick","orient":"vertical","thickness":18,"size":10,"opacity":1},"data":{"values":[{"x":-1.2,"y":-0.875,"v":0.25},{"x":-1.1,"y":-0.875,"v":0.33},{"x":-1,"y":-0.875,"v":0.43},{"x":-0.9,"y":-0.875,"v":0.55},{"x":-0.8,"y":-0.875,"v":0.68},{"x":-0.7,"y":-0.875,"v":0.82},{"x":-0.6,"y":-0.875,"v":0.93},{"x":-0.5,"y":-0.875,"v":0.98},{"x":-0.4,"y":-0.875,"v":1.03},{"x":-0.3,"y":-0.875,"v":1.07},{"x":-0.2,"y":-0.875,"v":1.11},{"x":-0.1,"y":-0.875,"v":1.14},{"x":0,"y":-0.875,"v":1.17},{"x":0.1,"y":-0.875,"v":1.17},{"x":0.2,"y":-0.875,"v":1.16},{"x":0.3,"y":-0.875,"v":1.13},{"x":0.4,"y":-0.875,"v":1.09},{"x":0.5,"y":-0.875,"v":1.05},{"x":0.6,"y":-0.875,"v":1},{"x":0.7,"y":-0.875,"v":0.9},{"x":0.8,"y":-0.875,"v":0.45},{"x":0.9,"y":-0.875,"v":0.18},{"x":1,"y":-0.875,"v":0.1},{"x":-1.2,"y":-0.925,"v":0.22},{"x":-1.1,"y":-0.925,"v":0.29},{"x":-1,"y":-0.925,"v":0.37},{"x":-0.9,"y":-0.925,"v":0.47},{"x":-0.8,"y":-0.925,"v":0.6},{"x":-0.7,"y":-0.925,"v":0.74},{"x":-0.6,"y":-0.925,"v":0.88},{"x":-0.5,"y":-0.925,"v":0.97},{"x":-0.4,"y":-0.925,"v":1.04},{"x":-0.3,"y":-0.925,"v":1.08},{"x":-0.2,"y":-0.925,"v":1.12},{"x":-0.1,"y":-0.925,"v":1.16},{"x":0,"y":-0.925,"v":1.2},{"x":0.1,"y":-0.925,"v":1.23},{"x":0.2,"y":-0.925,"v":1.25},{"x":0.3,"y":-0.925,"v":1.26},{"x":0.4,"y":-0.925,"v":1.25},{"x":0.5,"y":-0.925,"v":1.2},{"x":0.6,"y":-0.925,"v":1.08},{"x":0.7,"y":-0.925,"v":0.78},{"x":0.8,"y":-0.925,"v":0.3},{"x":0.9,"y":-0.925,"v":0.12},{"x":1,"y":-0.925,"v":0.06},{"x":-1.2,"y":-0.975,"v":0.12},{"x":-1.1,"y":-0.975,"v":0.15},{"x":-1,"y":-0.975,"v":0.2},{"x":-0.9,"y":-0.975,"v":0.25},{"x":-0.8,"y":-0.975,"v":0.31},{"x":-0.7,"y":-0.975,"v":0.37},{"x":-0.6,"y":-0.975,"v":0.44},{"x":-0.5,"y":-0.975,"v":0.52},{"x":-0.4,"y":-0.975,"v":0.62},{"x":-0.3,"y":-0.975,"v":0.7},{"x":-0.2,"y":-0.975,"v":0.76},{"x":-0.1,"y":-0.975,"v":0.8},{"x":0,"y":-0.975,"v":0.82},{"x":0.1,"y":-0.975,"v":0.82},{"x":0.2,"y":-0.975,"v":0.8},{"x":0.3,"y":-0.975,"v":0.74},{"x":0.4,"y":-0.975,"v":0.65},{"x":0.5,"y":-0.975,"v":0.52},{"x":0.6,"y":-0.975,"v":0.38},{"x":0.7,"y":-0.975,"v":0.22},{"x":0.8,"y":-0.975,"v":0.1},{"x":0.9,"y":-0.975,"v":0.05},{"x":1,"y":-0.975,"v":0.02}]}}
]},
{"mark":{"type":"tick","orient":"horizontal","size":6,"thickness":2,"color":"#111","opacity":1},"data":{"values":[{"x":2.427,"y":-2.585},{"x":2.427,"y":-1.994},{"x":2.427,"y":-1.403},{"x":2.427,"y":-0.812},{"x":2.427,"y":-0.221},{"x":2.427,"y":0.37},{"x":2.427,"y":0.961},{"x":2.651,"y":-2.585},{"x":2.651,"y":-1.994},{"x":2.651,"y":-1.403},{"x":2.651,"y":-0.812},{"x":2.651,"y":-0.221},{"x":2.651,"y":0.37},{"x":2.651,"y":0.961}]}},
{"mark":{"type":"text","style":"sP"},"data":{"values":[{"t":"P","x":-1.918,"y":0.852}]},"encoding":{"text":{"field":"t"}}},
{"mark":{"type":"text","style":"sM"},"data":{"values":[{"t":"max","x":-1.718,"y":0.778}]},"encoding":{"text":{"field":"t"}}},
{"mark":{"type":"text","style":"sT"},"data":{"values":[{"t":"= 1.4GPa","x":-1.347,"y":0.852}]},"encoding":{"text":{"field":"t"}}},
{"mark":{"type":"text","style":"sL"},"data":{"values":[{"t":"×10⁹Pa","x":2.594,"y":1.483}]},"encoding":{"text":{"field":"t"}}},
{"mark":{"type":"rule","color":"#4caf50","strokeWidth":3},"data":{"values":[{"x":-3.335,"x2":-3.335,"y":-2.716,"y2":-2.369}]},"encoding":{"x2":{"field":"x2"},"y2":{"field":"y2"}}},
{"mark":{"type":"rule","color":"#e8306e","strokeWidth":3},"data":{"values":[{"x":-3.335,"x2":-2.935,"y":-2.716,"y2":-2.716}]},"encoding":{"x2":{"field":"x2"},"y2":{"field":"y2"}}},
{"mark":{"type":"point","shape":"triangle-up","filled":true,"size":90,"color":"#4caf50","opacity":1},"data":{"values":[{"x":-3.335,"y":-2.369}]}},
{"mark":{"type":"point","shape":"triangle-right","filled":true,"size":90,"color":"#e8306e","opacity":1},"data":{"values":[{"x":-2.935,"y":-2.716}]}},
{"mark":{"type":"text","style":"sA"},"data":{"values":[{"t":"y","x":-3.335,"y":-2.239},{"t":"x","x":-2.847,"y":-2.716},{"t":"z","x":-3.335,"y":-2.716}]},"encoding":{"text":{"field":"t"}}}
]},
{"encoding":{"x":{"field":"x","type":"quantitative","scale":{"domain":[-3.1,1.5],"range":[1760,2576],"nice":false,"zero":false},"axis":{"orient":"bottom","offset":-296,"labelPadding":26,"values":[-3,-2,-1,0,1]}},"y":{"field":"y","type":"quantitative","scale":{"domain":[-1,0],"range":[1359,1177],"nice":false,"zero":false},"axis":{"orient":"left","offset":-1739,"labelPadding":34,"values":[0,-0.5,-1]}}},
"layer":[
{"encoding":{"color":{"field":"v","type":"quantitative","scale":{"domain":[-0.07,0.446,1.06,1.59],"range":["#0000ff","#00ffff","#ffff00","#ff0000"],"interpolate":"rgb"},"legend":{"format":"~g","legendX":2699,"legendY":917,"gradientLength":715,"gradientThickness":44,"values":[0,0.2,0.4,0.6,0.8,1,1.2,1.4]}}},
"layer":[
{"mark":{"type":"rect"},"data":{"values":[{"x":-3.1,"x2":1.5,"y":0,"y2":-1,"v":0}]},"encoding":{"x2":{"field":"x2"},"y2":{"field":"y2"}}},
{"mark":{"type":"tick","orient":"vertical","thickness":19,"size":182,"opacity":1},"data":{"values":[{"x":-2.4,"y":-0.5,"v":0.01},{"x":-2.3,"y":-0.5,"v":0.015},{"x":-2.2,"y":-0.5,"v":0.02},{"x":-2.1,"y":-0.5,"v":0.035},{"x":-2,"y":-0.5,"v":0.05},{"x":-1.9,"y":-0.5,"v":0.065},{"x":-1.8,"y":-0.5,"v":0.08},{"x":-1.7,"y":-0.5,"v":0.095},{"x":-1.6,"y":-0.5,"v":0.11},{"x":-1.55,"y":-0.5,"v":0.125},{"x":-1.5,"y":-0.5,"v":0.14},{"x":-1.45,"y":-0.5,"v":0.16},{"x":-1.4,"y":-0.5,"v":0.18},{"x":-1.35,"y":-0.5,"v":0.205},{"x":-1.3,"y":-0.5,"v":0.23},{"x":-1.25,"y":-0.5,"v":0.265},{"x":1.1,"y":-0.5,"v":0.1},{"x":1.15,"y":-0.5,"v":0.07},{"x":1.2,"y":-0.5,"v":0.04},{"x":1.3,"y":-0.5,"v":0.02}]}},
{"mark":{"type":"tick","orient":"vertical","thickness":19,"size":155,"opacity":1},"data":{"values":[{"x":-1.2,"y":-0.425,"v":0.3},{"x":-1.15,"y":-0.425,"v":0.35},{"x":-1.1,"y":-0.425,"v":0.4},{"x":-1.05,"y":-0.425,"v":0.45},{"x":-1,"y":-0.425,"v":0.52},{"x":-0.95,"y":-0.425,"v":0.6},{"x":-0.9,"y":-0.425,"v":0.68},{"x":-0.85,"y":-0.425,"v":0.77},{"x":-0.8,"y":-0.425,"v":0.88},{"x":-0.75,"y":-0.425,"v":0.98},{"x":-0.7,"y":-0.425,"v":1.07},{"x":-0.65,"y":-0.425,"v":1.13},{"x":-0.6,"y":-0.425,"v":1.18},{"x":-0.55,"y":-0.425,"v":1.21},{"x":-0.5,"y":-0.425,"v":1.24},{"x":-0.45,"y":-0.425,"v":1.27},{"x":-0.4,"y":-0.425,"v":1.3},{"x":-0.35,"y":-0.425,"v":1.33},{"x":-0.3,"y":-0.425,"v":1.35},{"x":-0.2,"y":-0.425,"v":1.39},{"x":-0.1,"y":-0.425,"v":1.42},{"x":0,"y":-0.425,"v":1.43},{"x":0.1,"y":-0.425,"v":1.42},{"x":0.2,"y":-0.425,"v":1.39},{"x":0.3,"y":-0.425,"v":1.36},{"x":0.35,"y":-0.425,"v":1.34},{"x":0.4,"y":-0.425,"v":1.31},{"x":0.45,"y":-0.425,"v":1.29},{"x":0.5,"y":-0.425,"v":1.26},{"x":0.55,"y":-0.425,"v":1.23},{"x":0.6,"y":-0.425,"v":1.2},{"x":0.65,"y":-0.425,"v":1.17},{"x":0.7,"y":-0.425,"v":1.14},{"x":0.75,"y":-0.425,"v":1.11},{"x":0.8,"y":-0.425,"v":1.06},{"x":0.85,"y":-0.425,"v":0.8},{"x":0.9,"y":-0.425,"v":0.43},{"x":0.95,"y":-0.425,"v":0.28},{"x":1,"y":-0.425,"v":0.2}]}},
{"mark":{"type":"tick","orient":"vertical","thickness":19,"size":10,"opacity":1},"data":{"values":[{"x":-1.2,"y":-0.875,"v":0.29},{"x":-1.1,"y":-0.875,"v":0.39},{"x":-1,"y":-0.875,"v":0.51},{"x":-0.9,"y":-0.875,"v":0.66},{"x":-0.8,"y":-0.875,"v":0.86},{"x":-0.7,"y":-0.875,"v":1.05},{"x":-0.6,"y":-0.875,"v":1.17},{"x":-0.5,"y":-0.875,"v":1.24},{"x":-0.4,"y":-0.875,"v":1.3},{"x":-0.3,"y":-0.875,"v":1.35},{"x":-0.2,"y":-0.875,"v":1.39},{"x":-0.1,"y":-0.875,"v":1.42},{"x":0,"y":-0.875,"v":1.43},{"x":0.1,"y":-0.875,"v":1.43},{"x":0.2,"y":-0.875,"v":1.42},{"x":0.3,"y":-0.875,"v":1.38},{"x":0.4,"y":-0.875,"v":1.33},{"x":0.5,"y":-0.875,"v":1.28},{"x":0.6,"y":-0.875,"v":1.22},{"x":0.7,"y":-0.875,"v":1.14},{"x":0.8,"y":-0.875,"v":1},{"x":0.9,"y":-0.875,"v":0.4},{"x":1,"y":-0.875,"v":0.18},{"x":-1.2,"y":-0.925,"v":0.26},{"x":-1.1,"y":-0.925,"v":0.35},{"x":-1,"y":-0.925,"v":0.45},{"x":-0.9,"y":-0.925,"v":0.58},{"x":-0.8,"y":-0.925,"v":0.75},{"x":-0.7,"y":-0.925,"v":0.95},{"x":-0.6,"y":-0.925,"v":1.12},{"x":-0.5,"y":-0.925,"v":1.21},{"x":-0.4,"y":-0.925,"v":1.29},{"x":-0.3,"y":-0.925,"v":1.34},{"x":-0.2,"y":-0.925,"v":1.4},{"x":-0.1,"y":-0.925,"v":1.44},{"x":0,"y":-0.925,"v":1.47},{"x":0.1,"y":-0.925,"v":1.5},{"x":0.2,"y":-0.925,"v":1.52},{"x":0.3,"y":-0.925,"v":1.52},{"x":0.4,"y":-0.925,"v":1.5},{"x":0.5,"y":-0.925,"v":1.45},{"x":0.6,"y":-0.925,"v":1.32},{"x":0.7,"y":-0.925,"v":1.1},{"x":0.8,"y":-0.925,"v":0.5},{"x":0.9,"y":-0.925,"v":0.17},{"x":1,"y":-0.925,"v":0.09},{"x":-1.2,"y":-0.975,"v":0.14},{"x":-1.1,"y":-0.975,"v":0.18},{"x":-1,"y":-0.975,"v":0.24},{"x":-0.9,"y":-0.975,"v":0.3},{"x":-0.8,"y":-0.975,"v":0.38},{"x":-0.7,"y":-0.975,"v":0.45},{"x":-0.6,"y":-0.975,"v":0.54},{"x":-0.5,"y":-0.975,"v":0.64},{"x":-0.4,"y":-0.975,"v":0.75},{"x":-0.3,"y":-0.975,"v":0.85},{"x":-0.2,"y":-0.975,"v":0.93},{"x":-0.1,"y":-0.975,"v":0.97},{"x":0,"y":-0.975,"v":0.98},{"x":0.1,"y":-0.975,"v":0.98},{"x":0.2,"y":-0.975,"v":0.97},{"x":0.3,"y":-0.975,"v":0.92},{"x":0.4,"y":-0.975,"v":0.82},{"x":0.5,"y":-0.975,"v":0.67},{"x":0.6,"y":-0.975,"v":0.47},{"x":0.7,"y":-0.975,"v":0.32},{"x":0.8,"y":-0.975,"v":0.16},{"x":0.9,"y":-0.975,"v":0.07},{"x":1,"y":-0.975,"v":0.03}]}}
]},
{"mark":{"type":"tick","orient":"horizontal","size":6,"thickness":2,"color":"#111","opacity":1},"data":{"values":[{"x":2.21,"y":-2.334},{"x":2.21,"y":-1.861},{"x":2.21,"y":-1.388},{"x":2.21,"y":-0.915},{"x":2.21,"y":-0.442},{"x":2.21,"y":0.031},{"x":2.21,"y":0.504},{"x":2.21,"y":0.977},{"x":2.424,"y":-2.334},{"x":2.424,"y":-1.861},{"x":2.424,"y":-1.388},{"x":2.424,"y":-0.915},{"x":2.424,"y":-0.442},{"x":2.424,"y":0.031},{"x":2.424,"y":0.504},{"x":2.424,"y":0.977}]}},
{"mark":{"type":"text","style":"sP"},"data":{"values":[{"t":"P","x":-1.81,"y":0.896}]},"encoding":{"text":{"field":"t"}}},
{"mark":{"type":"text","style":"sM"},"data":{"values":[{"t":"max","x":-1.618,"y":0.824}]},"encoding":{"text":{"field":"t"}}},
{"mark":{"type":"text","style":"sT"},"data":{"values":[{"t":"= 1.7GPa","x":-1.263,"y":0.896}]},"encoding":{"text":{"field":"t"}}},
{"mark":{"type":"text","style":"sL"},"data":{"values":[{"t":"×10⁹Pa","x":2.418,"y":1.599}]},"encoding":{"text":{"field":"t"}}},
{"mark":{"type":"rule","color":"#4caf50","strokeWidth":3},"data":{"values":[{"x":-3.264,"x2":-3.264,"y":-2.473,"y2":-2.148}]},"encoding":{"x2":{"field":"x2"},"y2":{"field":"y2"}}},
{"mark":{"type":"rule","color":"#e8306e","strokeWidth":3},"data":{"values":[{"x":-3.264,"x2":-2.88,"y":-2.473,"y2":-2.473}]},"encoding":{"x2":{"field":"x2"},"y2":{"field":"y2"}}},
{"mark":{"type":"point","shape":"triangle-up","filled":true,"size":90,"color":"#4caf50","opacity":1},"data":{"values":[{"x":-3.264,"y":-2.148}]}},
{"mark":{"type":"point","shape":"triangle-right","filled":true,"size":90,"color":"#e8306e","opacity":1},"data":{"values":[{"x":-2.88,"y":-2.473}]}},
{"mark":{"type":"text","style":"sA"},"data":{"values":[{"t":"y","x":-3.264,"y":-1.99},{"t":"x","x":-2.8,"y":-2.473},{"t":"z","x":-3.264,"y":-2.473}]},"encoding":{"text":{"field":"t"}}}
]}
]}
